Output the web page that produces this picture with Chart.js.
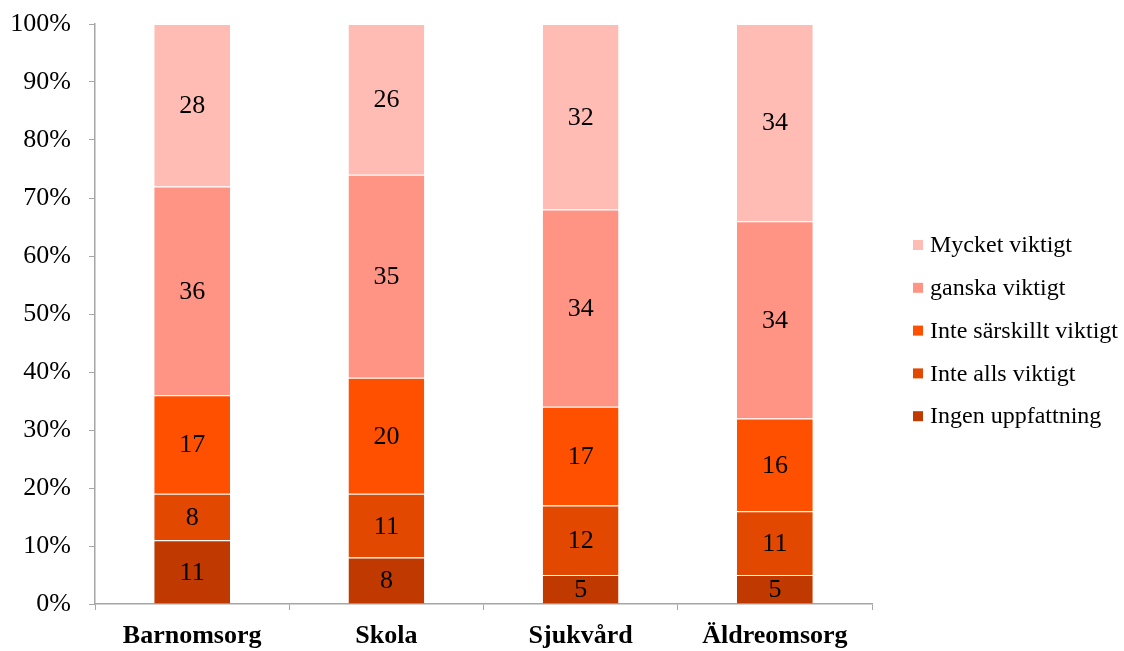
<!DOCTYPE html>
<html>
<head>
<meta charset="utf-8">
<script src="https://cdn.jsdelivr.net/npm/chart.js@4"></script>
<style>
  body { margin: 0; background: #fff; }
  #wrap { width: 1124px; height: 651px; }
</style>
</head>
<body>
<div id="wrap"><canvas id="surveyChart"></canvas></div>
<script>
const categories = ['Barnomsorg', 'Skola', 'Sjukvård', 'Äldreomsorg'];
const seriesNames = ['Ingen uppfattning', 'Inte alls viktigt', 'Inte särskillt viktigt', 'ganska viktigt', 'Mycket viktigt'];
const ingenUppfattning = [11, 8, 5, 5];
const inteAllsViktigt = [8, 11, 12, 11];
const inteSarskilltViktigt = [17, 20, 17, 16];
const ganskaViktigt = [36, 35, 34, 34];
const mycketViktigt = [28, 26, 32, 34];
const yTicks = [0, 10, 20, 30, 40, 50, 60, 70, 80, 90, 100];

const colors = ['#C03A00', '#E24800', '#FF5000', '#FF9484', '#FFBCB4'];
const values = [ingenUppfattning, inteAllsViktigt, inteSarskilltViktigt, ganskaViktigt, mycketViktigt];

const axisGray = '#A6A6A6';
const serif = '"Liberation Serif", "Times New Roman", serif';

// draws the number in the middle of each segment
const segmentLabels = {
  id: 'segmentLabels',
  afterDatasetsDraw(chart) {
    const ctx = chart.ctx;
    ctx.save();
    ctx.font = '26px ' + serif;
    ctx.fillStyle = '#000';
    ctx.textAlign = 'center';
    ctx.textBaseline = 'middle';
    chart.data.datasets.forEach((ds, i) => {
      chart.getDatasetMeta(i).data.forEach((bar, j) => {
        ctx.fillText(ds.data[j], bar.x, (bar.y + bar.base) / 2 + 1);
      });
    });
    ctx.restore();
  }
};

// legend on the right, top entry = last series
const sideLegend = {
  id: 'sideLegend',
  afterDraw(chart) {
    const ctx = chart.ctx;
    const boxX = 913, textX = 930, startY = 245, step = 42.8;
    ctx.save();
    ctx.font = '24px ' + serif;
    ctx.textBaseline = 'middle';
    const sets = chart.data.datasets.slice().reverse();
    sets.forEach((ds, k) => {
      const y = startY + k * step;
      ctx.fillStyle = ds.backgroundColor;
      ctx.fillRect(boxX, y - 5, 10, 10);
      ctx.fillStyle = '#000';
      ctx.fillText(ds.label, textX, y + 1);
    });
    ctx.restore();
  }
};

new Chart(document.getElementById('surveyChart'), {
  type: 'bar',
  data: {
    labels: categories,
    datasets: seriesNames.map((name, i) => ({
      label: name,
      data: values[i],
      backgroundColor: colors[i],
      borderColor: '#fff',
      borderWidth: { top: 1, bottom: 0, left: 0, right: 0 },
      borderSkipped: false,
      barPercentage: 0.39,
      categoryPercentage: 1
    }))
  },
  options: {
    responsive: true,
    maintainAspectRatio: false,
    animation: false,
    layout: { padding: { left: 8, top: 24, right: 252, bottom: 0 } },
    scales: {
      x: {
        stacked: true,
        afterFit: (scale) => { scale.height = 47; },
        grid: { display: true, drawOnChartArea: false, drawTicks: true, tickLength: 6, color: axisGray, offset: true },
        border: { color: axisGray, width: 1.5 },
        ticks: {
          color: '#000',
          padding: 11,
          font: { family: serif, size: 26, weight: 'bold' }
        }
      },
      y: {
        stacked: true,
        min: 0,
        max: 100,
        afterBuildTicks: (axis) => { axis.ticks = yTicks.map(v => ({ value: v })); },
        afterFit: (scale) => { scale.width = 87; scale.paddingTop = 0; scale.paddingBottom = 0; },
        grid: { display: true, drawOnChartArea: false, drawTicks: true, tickLength: 6, color: axisGray },
        border: { color: axisGray, width: 1.5 },
        ticks: {
          color: '#000',
          padding: 18,
          font: { family: serif, size: 26 },
          callback: (v) => v + '%'
        }
      }
    },
    plugins: {
      tooltip: { enabled: false },
      legend: { display: false }
    }
  },
  plugins: [segmentLabels, sideLegend]
});
</script>
</body>
</html>
